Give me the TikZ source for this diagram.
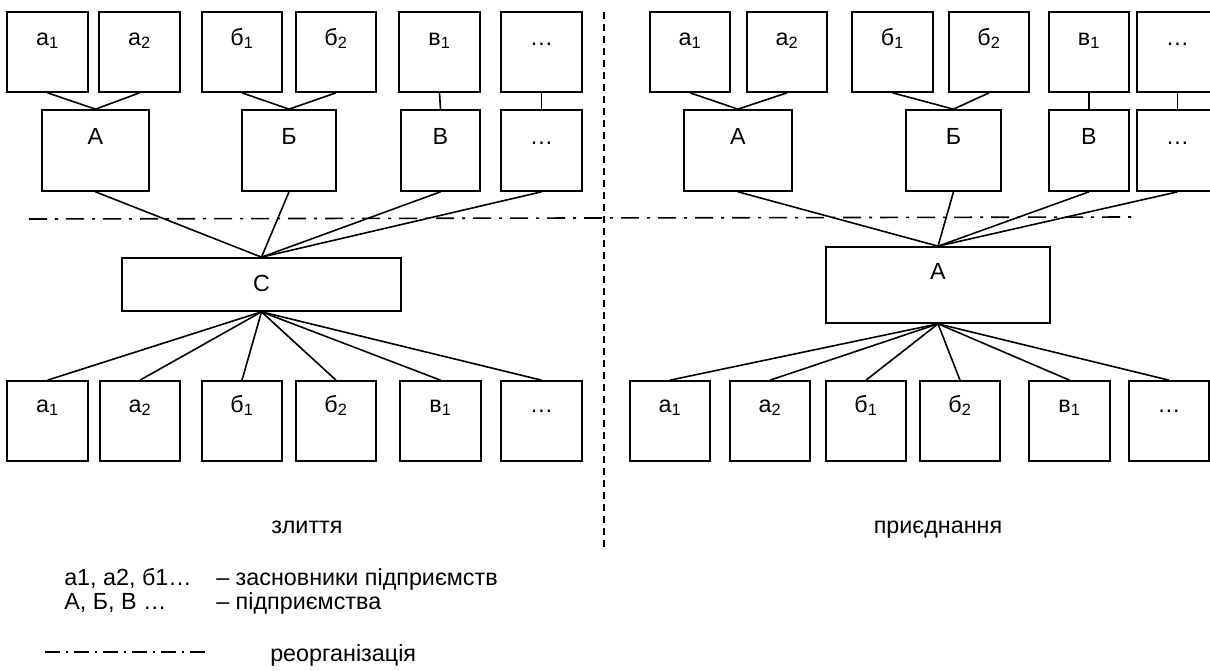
\documentclass[tikz,border=0pt]{standalone}
\usepackage{fontspec}
\setmainfont{Liberation Sans}
\usetikzlibrary{fit,calc}
\newcommand\blab[3]{\node[lbl] at ($(#1.north)+(0,#2)$) {#3};}
\begin{document}
\begin{tikzpicture}[x=0.75pt,y=-0.75pt,
  bx/.style={draw, line width=1.25pt, inner sep=0pt, fit={#1}},
  lbl/.style={anchor=base, inner sep=0pt, font=\fontsize{17.5}{20}\selectfont},
  captxt/.style={anchor=base, inner sep=0pt, font=\fontsize{17.5}{20}\selectfont},
  txt/.style={anchor=base west, inner sep=0pt, font=\fontsize{17.5}{20}\selectfont},
  ln/.style={line width=1.2pt},
  reorg/.style={line width=1.2pt, dash pattern=on 13.5pt off 6pt on 2.25pt off 6pt},
  sep/.style={line width=1.2pt, dash pattern=on 5pt off 4pt},
]
\useasboundingbox (0,0) rectangle (1210,671);
\clip (0,0) rectangle (1210,671);
% ---------- left: top row
\node[bx={(7,12) (88,92)}] (lta1) {};
\node[bx={(99,12) (180,92)}] (lta2) {};
\node[bx={(202,12) (282,92)}] (ltb1) {};
\node[bx={(296,12) (376,92)}] (ltb2) {};
\node[bx={(399,12) (480,92)}] (ltv1) {};
\node[bx={(501,12) (582,92)}] (ltd) {};
\blab{lta1}{34}{а\textsubscript{1}}
\blab{lta2}{34}{а\textsubscript{2}}
\blab{ltb1}{34}{б\textsubscript{1}}
\blab{ltb2}{34}{б\textsubscript{2}}
\blab{ltv1}{34}{в\textsubscript{1}}
\blab{ltd}{34}{…}
% left: middle row
\node[bx={(42,110) (149,191)}] (lmA) {};
\node[bx={(242,110) (336,191)}] (lmB) {};
\node[bx={(401,110) (480,191)}] (lmV) {};
\node[bx={(501,110) (582,191)}] (lmD) {};
\blab{lmA}{35}{А}
\blab{lmB}{35}{Б}
\blab{lmV}{35}{В}
\blab{lmD}{35}{…}
% left: C
\node[bx={(122,258) (401,311)}] (C) {};
\blab{C}{34}{С}
% left: bottom row
\node[bx={(7,381) (88,461)}] (lba1) {};
\node[bx={(100,381) (180,461)}] (lba2) {};
\node[bx={(202,381) (282,461)}] (lbb1) {};
\node[bx={(296,381) (376,461)}] (lbb2) {};
\node[bx={(400,381) (481,461)}] (lbv1) {};
\node[bx={(501,381) (582,461)}] (lbd) {};
\blab{lba1}{32}{а\textsubscript{1}}
\blab{lba2}{32}{а\textsubscript{2}}
\blab{lbb1}{32}{б\textsubscript{1}}
\blab{lbb2}{32}{б\textsubscript{2}}
\blab{lbv1}{32}{в\textsubscript{1}}
\blab{lbd}{32}{…}
% left connectors
\draw[ln] (lta1.south) -- (lmA.north);
\draw[ln] (lta2.south) -- (lmA.north);
\draw[ln] (ltb1.south) -- (lmB.north);
\draw[ln] (ltb2.south) -- (lmB.north);
\draw[ln] (ltv1.south) -- (lmV.north);
\draw[ln] (ltd.south) -- (lmD.north);
\foreach \n in {lmA,lmB,lmV,lmD} \draw[ln] (\n.south) -- (C.north);
\foreach \n in {lba1,lba2,lbb1,lbb2,lbv1,lbd} \draw[ln] (C.south) -- (\n.north);
% ---------- right: top row
\node[bx={(650,12) (730,92)}] (rta1) {};
\node[bx={(747,12) (827,92)}] (rta2) {};
\node[bx={(852,12) (933,92)}] (rtb1) {};
\node[bx={(949,12) (1029,92)}] (rtb2) {};
\node[bx={(1049,12) (1129,92)}] (rtv1) {};
\node[bx={(1137,12) (1218,92)}] (rtd) {};
\blab{rta1}{34}{а\textsubscript{1}}
\blab{rta2}{34}{а\textsubscript{2}}
\blab{rtb1}{34}{б\textsubscript{1}}
\blab{rtb2}{34}{б\textsubscript{2}}
\blab{rtv1}{34}{в\textsubscript{1}}
\blab{rtd}{34}{…}
% right: middle row
\node[bx={(684,110) (792,191)}] (rmA) {};
\node[bx={(906,110) (1001,191)}] (rmB) {};
\node[bx={(1049,110) (1129,191)}] (rmV) {};
\node[bx={(1137,110) (1218,191)}] (rmD) {};
\blab{rmA}{35}{А}
\blab{rmB}{35}{Б}
\blab{rmV}{35}{В}
\blab{rmD}{35}{…}
% right: A
\node[bx={(826,247) (1050,323)}] (RA) {};
\blab{RA}{33}{А}
% right: bottom row
\node[bx={(630,381) (710,461)}] (rba1) {};
\node[bx={(730,381) (810,461)}] (rba2) {};
\node[bx={(826,381) (906,461)}] (rbb1) {};
\node[bx={(920,381) (1000,461)}] (rbb2) {};
\node[bx={(1029,381) (1110,461)}] (rbv1) {};
\node[bx={(1129,381) (1209,461)}] (rbd) {};
\blab{rba1}{32}{а\textsubscript{1}}
\blab{rba2}{32}{а\textsubscript{2}}
\blab{rbb1}{32}{б\textsubscript{1}}
\blab{rbb2}{32}{б\textsubscript{2}}
\blab{rbv1}{32}{в\textsubscript{1}}
\blab{rbd}{32}{…}
% right connectors
\draw[ln] (rta1.south) -- (rmA.north);
\draw[ln] (rta2.south) -- (rmA.north);
\draw[ln] (rtb1.south) -- (rmB.north);
\draw[ln] (rtb2.south) -- (rmB.north);
\draw[ln] (rtv1.south) -- (rmV.north);
\draw[ln] (rtd.south) -- (rmD.north);
\foreach \n in {rmA,rmB,rmV,rmD} \draw[ln] (\n.south) -- (RA.north);
\foreach \n in {rba1,rba2,rbb1,rbb2,rbv1,rbd} \draw[ln] (RA.south) -- (\n.north);
% ---------- separators
\coordinate (sepT) at (604,12);
\coordinate (sepB) at (604,549);
\draw[sep] (sepT) -- (sepB);
\coordinate (reoL) at (29,219);
\coordinate (reoR) at (1134,217);
\draw[reorg] (reoL) -- (reoR);
% ---------- captions
\node[captxt] (capL) at (307,533) {злиття};
\node[captxt] (capR) at (938,533) {приєднання};
% ---------- legend
\node[txt] (l1a) at (64,585) {а1, а2, б1…};
\node[txt] (l1b) at (216,585) {– засновники підприємств};
\node[txt] (l2a) at (64,609) {А, Б, В …};
\node[txt] (l2b) at (216,609) {– підприємства};
\coordinate (lgL) at (45,652);
\coordinate (lgR) at (211,652);
\draw[line width=1.2pt, dash pattern=on 11.25pt off 4.5pt on 1.5pt off 4.5pt] (lgL) -- (lgR);
\node[txt] (l3) at (270,661) {реорганізація};
\end{tikzpicture}
\end{document}
